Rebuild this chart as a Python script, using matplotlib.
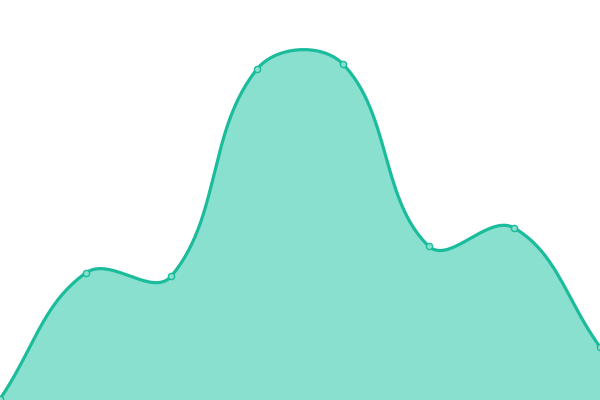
import numpy as np
from matplotlib import pyplot as plt

# data (pixel-like value scale, 0 = bottom edge, 400 = top edge)
labels = ["1", "2", "3", "4", "5", "6", "7", "8"]
values = [1, 127, 124, 331, 336, 154, 172, 53]

LINE = "#1abc9c"
FILL = "#89e0ce"


def splineControls(xs, ys, tension=0.4):
    # Chart.js style cardinal control points
    n = len(xs)
    cps = []
    for i in range(n):
        p = np.array([xs[i], ys[i]])
        prev = np.array([xs[max(i - 1, 0)], ys[max(i - 1, 0)]])
        nxt = np.array([xs[min(i + 1, n - 1)], ys[min(i + 1, n - 1)]])
        d01 = np.hypot(*(p - prev))
        d12 = np.hypot(*(nxt - p))
        tot = d01 + d12
        s01 = d01 / tot if tot else 0
        s12 = d12 / tot if tot else 0
        fa = tension * s01
        fb = tension * s12
        cps.append((p - fa * (nxt - prev), p + fb * (nxt - prev)))
    return cps


def smoothCurve(xs, ys, steps=60):
    cps = splineControls(xs, ys)
    px, py = [], []
    t = np.linspace(0, 1, steps)
    for i in range(len(xs) - 1):
        p0 = np.array([xs[i], ys[i]])
        p1 = cps[i][1]
        p2 = cps[i + 1][0]
        p3 = np.array([xs[i + 1], ys[i + 1]])
        pts = ((1 - t)[:, None] ** 3 * p0 + 3 * (1 - t)[:, None] ** 2 * t[:, None] * p1
               + 3 * (1 - t)[:, None] * t[:, None] ** 2 * p2 + t[:, None] ** 3 * p3)
        px.extend(pts[:, 0])
        py.extend(pts[:, 1])
    return np.array(px), np.array(py)


fig = plt.figure(figsize=(6, 4), dpi=100)
ax = fig.add_axes([0, 0, 1, 1])
xs = np.linspace(0, 600, len(values))
cx, cy = smoothCurve(xs, np.array(values, dtype=float))
ax.fill_between(cx, 0, cy, color=FILL, linewidth=0)
ax.plot(cx, cy, color=LINE, linewidth=2.3, solid_capstyle="round")
ax.scatter(xs, values, s=20, facecolor=FILL, edgecolor=LINE, linewidth=1, zorder=3)
ax.set_xlim(0, 600)
ax.set_ylim(0, 400)
ax.axis("off")
fig.savefig("out.png", dpi=100)
